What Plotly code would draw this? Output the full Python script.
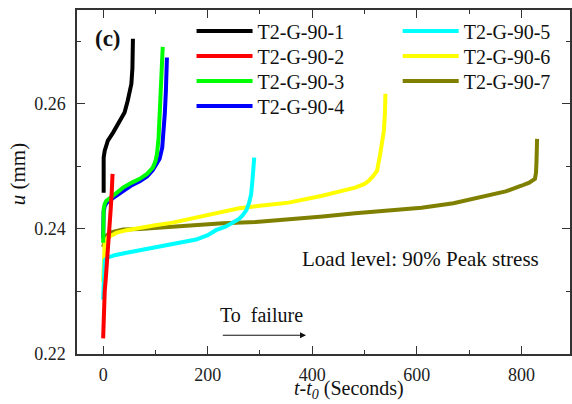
import plotly.graph_objects as go

# Creep displacement u (mm) versus elapsed time t - t0 (s), specimens T2-G-90-1 .. 7
names = ["T2-G-90-1", "T2-G-90-2", "T2-G-90-3", "T2-G-90-4",
         "T2-G-90-5", "T2-G-90-6", "T2-G-90-7"]
colors = ["#000000", "#ff0000", "#00ff00", "#0000ff",
          "#00ffff", "#ffff00", "#808000"]

t1 = [1, 1, 3, 9, 19, 26, 35, 41, 47, 51, 54, 56, 57]
u1 = [0.2458, 0.2514, 0.2525, 0.2541, 0.2554, 0.2565, 0.2576, 0.2586,
      0.2605, 0.2621, 0.2632, 0.2657, 0.2704]

t2 = [0, 0.5, 1.5, 3, 5, 7, 9.5, 12, 14.5, 16.5, 18]
u2 = [0.2225, 0.2254, 0.2278, 0.2300, 0.2320, 0.2340, 0.2365, 0.2398,
      0.2432, 0.2460, 0.2488]

t3 = [0, 0, 1, 3, 6, 13, 25, 38, 55, 70, 84, 95, 100, 103, 106, 108, 110,
      112, 114]
u3 = [0.2378, 0.2410, 0.2432, 0.2440, 0.2445, 0.2449, 0.2457, 0.2466,
      0.2474, 0.2480, 0.2488, 0.2498, 0.2508, 0.2520, 0.2545, 0.2589,
      0.2630, 0.2665, 0.2691]

t4 = [0, 0, 1, 3, 6, 13, 25, 38, 55, 70, 84, 95, 103, 108, 113, 116, 118,
      120, 121, 122]
u4 = [0.2385, 0.2412, 0.2428, 0.2436, 0.2441, 0.2446, 0.2453, 0.2462,
      0.2470, 0.2476, 0.2484, 0.2494, 0.2504, 0.2512, 0.2530, 0.2555,
      0.2585, 0.2620, 0.2645, 0.2674]

t5 = [0, 0.5, 1, 3, 8, 22, 45, 70, 100, 133, 160, 178, 200, 216, 235, 248,
      260, 267, 274, 279, 283, 285, 287, 289]
u5 = [0.2287, 0.2315, 0.2340, 0.2350, 0.2354, 0.2358, 0.2362, 0.2366,
      0.2371, 0.2377, 0.2380, 0.2383, 0.2390, 0.2398, 0.2404, 0.2410,
      0.2416, 0.2422, 0.2430, 0.2441, 0.2455, 0.2472, 0.2492, 0.2514]

t6 = [0, 0.5, 1, 2, 3, 8, 26, 45, 70, 100, 133, 165, 197, 230, 260, 300,
      355, 419, 460, 482, 500, 508, 516, 524, 530, 534, 537, 539, 540]
u6 = [0.2315, 0.2335, 0.2355, 0.2370, 0.2380, 0.2386, 0.2394, 0.2398,
      0.2402, 0.2406, 0.2410, 0.2416, 0.2422, 0.2428, 0.2433, 0.2437,
      0.2442, 0.2453, 0.2461, 0.2466, 0.2472, 0.2477, 0.2484, 0.2493,
      0.2520, 0.2538, 0.2557, 0.2585, 0.2616]

t7 = [0, 2, 5, 13, 38, 70, 102, 165, 229, 292, 355, 420, 482, 545, 609,
      670, 737, 770, 800, 815, 826, 828, 829, 830]
u7 = [0.2371, 0.2380, 0.2388, 0.2394, 0.2399, 0.2400, 0.2402, 0.2406,
      0.2409, 0.2411, 0.2415, 0.2420, 0.2425, 0.2429, 0.2434, 0.2441,
      0.2453, 0.2460, 0.2469, 0.2474, 0.2480, 0.2490, 0.2510, 0.2544]

x_ticks = [0, 200, 400, 600, 800]
y_ticks = [0.22, 0.24, 0.26]

times = [t1, t2, t3, t4, t5, t6, t7]
disps = [u1, u2, u3, u4, u5, u6, u7]

FONT = "Liberation Serif"
TEXT_COLOR = "#111111"
AXIS_COLOR = "#333333"

# plot-area geometry in pixels
L, R, T, B = 77, 572, 10, 354
W, H = R - L, B - T


def px_x(p):
    return (p - L) / W


def px_y(p):
    return 1 - (p - T) / H


fig = go.Figure()

# each entry gets its own legend box so the key forms two tight columns
legend_ids = ["legend"] + [f"legend{k}" for k in range(2, 8)]

# later specimens are drawn underneath earlier ones
for i in reversed(range(len(names))):
    fig.add_trace(go.Scatter(
        x=times[i], y=disps[i], mode="lines", name=names[i],
        line=dict(color=colors[i], width=4),
        legend=legend_ids[i], showlegend=True,
    ))

axis_common = dict(
    showline=True, linecolor=AXIS_COLOR, linewidth=1.5, mirror="ticks",
    ticks="inside", ticklen=8, tickwidth=1.3, tickcolor=AXIS_COLOR,
    showgrid=False, zeroline=False,
    tickfont=dict(family=FONT, size=18, color="#222222"),
)

fig.update_xaxes(
    range=[-50, 893], tickvals=x_ticks, ticktext=[str(v) for v in x_ticks],
    minor=dict(dtick=100, ticks="inside", ticklen=4, tickwidth=1.2,
               tickcolor=AXIS_COLOR),
    ticklabelstandoff=4,
    **axis_common,
)
fig.update_yaxes(
    range=[0.22, 0.275], tickvals=y_ticks, ticktext=[f"{v:.2f}" for v in y_ticks],
    minor=dict(dtick=0.01, tick0=0.22, ticks="inside", ticklen=4,
               tickwidth=1.2, tickcolor=AXIS_COLOR),
    ticklabelstandoff=6,
    **axis_common,
)

legend_font = dict(family=FONT, size=20, color=TEXT_COLOR)
col_left = [192, 192, 192, 192, 399, 399, 399]
row_mid = [33, 58, 83, 108, 33, 58, 83]
legend_layout = {}
for i, lid in enumerate(legend_ids):
    legend_layout[lid] = dict(
        x=px_x(col_left[i]), y=px_y(row_mid[i] - 21.5),
        xanchor="left", yanchor="top", font=legend_font,
        bgcolor="rgba(0,0,0,0)", itemwidth=56, visible=True,
    )

fig.update_layout(
    width=572, height=404,
    margin=dict(l=L, r=572 - R, t=T, b=404 - B),
    paper_bgcolor="white", plot_bgcolor="white",
    showlegend=True,
    **legend_layout,
    annotations=[
        dict(text="<b>(c)</b>", xref="paper", yref="paper",
             x=px_x(108), y=px_y(38), xanchor="center", yanchor="middle",
             showarrow=False, font=dict(family=FONT, size=23, color=TEXT_COLOR)),
        dict(text="Load level: 90% Peak stress", xref="paper", yref="paper",
             x=px_x(422), y=px_y(259), xanchor="center", yanchor="middle",
             showarrow=False, font=dict(family=FONT, size=21, color=TEXT_COLOR)),
        dict(text="To  failure", xref="paper", yref="paper",
             x=px_x(262), y=px_y(315), xanchor="center", yanchor="middle",
             showarrow=False, font=dict(family=FONT, size=20, color=TEXT_COLOR)),
        dict(x=388, y=0.223, ax=226, ay=0.223, xref="x", yref="y",
             axref="x", ayref="y", text="", showarrow=True,
             arrowhead=2, arrowsize=1.2, arrowwidth=1, arrowcolor=TEXT_COLOR),
        dict(text="<i>t</i>-<i>t</i><sub><i>0</i></sub> (Seconds)",
             xref="paper", yref="paper",
             x=px_x(350), y=px_y(389), xanchor="center", yanchor="middle",
             showarrow=False, font=dict(family=FONT, size=20, color=TEXT_COLOR)),
        dict(text="<i>u</i> (mm)", xref="paper", yref="paper",
             x=px_x(18), y=px_y(174), xanchor="center", yanchor="middle",
             textangle=-90,
             showarrow=False, font=dict(family=FONT, size=21, color=TEXT_COLOR)),
    ],
)

fig.write_html("out.html")
